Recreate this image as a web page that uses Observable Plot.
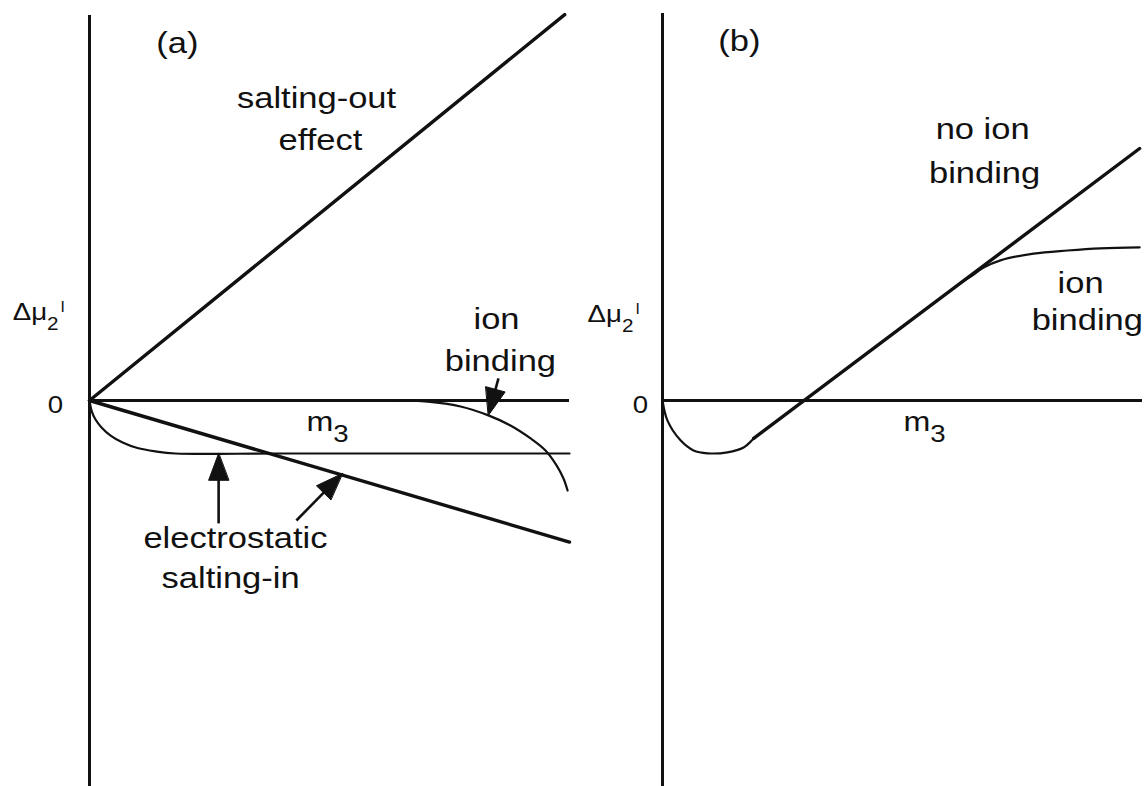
<!DOCTYPE html>
<html><head><meta charset="utf-8">
<script src="https://cdn.jsdelivr.net/npm/d3@7"></script>
<script src="https://cdn.jsdelivr.net/npm/@observablehq/plot@0.6"></script>
<style>
html,body{margin:0;padding:0;background:#fff;}
#wrap{display:flex;width:1144px;height:786px;overflow:hidden;}
svg text{font-family:"Liberation Sans",Arial,Helvetica,sans-serif;}
</style></head>
<body><div id="wrap"></div>
<script>
// ---------------- DATA (arbitrary schematic units: m3 0..100, Δμ2 up positive) ----------------
// Panel (a)
const aSaltOutM3 = [0, 99];
const aSaltOutMu = [0, 80.4];
const aSaltInLinM3 = [0, 100];
const aSaltInLinMu = [0, -29.5];
const aElectroM3 = [0, 0.42, 1.25, 2.5, 4.4, 6.9, 10.0, 13.75, 17.9, 40, 100];
const aElectroMu = [0, -2.1, -3.96, -5.6, -7.3, -8.75, -9.9, -10.6, -11.04, -11.04, -11.04];
const aIonM3 = [64.8, 71.0, 77.3, 83.1, 87.7, 91.9, 95.0, 97.3, 98.75, 99.6];
const aIonMu = [0, -0.3, -1.25, -3.1, -5.2, -7.9, -10.4, -13.5, -16.25, -18.75];
const aArrowTipM3 = [83.1, 26.9, 52.7];
const aArrowTipMu = [-3.1, -11.0, -15.2];
const aArrowTailM3 = [85.2, 26.9, 43.1];
const aArrowTailMu = [4.6, -25.6, -25.0];
const aLabelText = ["(a)", "salting-out", "effect", "ion", "binding", "electrostatic", "salting-in"];
const aLabelM3 = [18.3, 47.3, 48.1, 84.8, 85.6, 30.4, 29.4];
const aLabelMu = [74.3, 63.0, 54.1, 17.0, 8.25, -28.8, -37.0];
const aAxisTop = 80.2;

// Panel (b)
const bDipM3 = [0, 1.04, 3.75, 6.46, 9.4, 13.5, 16.9, 19.0];
const bDipMu = [0, -4.2, -8.3, -10.4, -11.0, -10.8, -9.8, -7.9];
const bNoBindM3 = [19.0, 99.4];
const bNoBindMu = [-7.9, 52.5];
const bIonM3 = [62.5, 64.2, 66.9, 70.4, 77.3, 84.4, 91.25, 99.4];
const bIonMu = [24.8, 25.8, 27.7, 29.2, 30.6, 31.25, 31.7, 31.9];
const bLabelText = ["(b)", "no ion", "binding", "ion", "binding"];
const bLabelM3 = [16.0, 66.7, 67.1, 87.1, 88.5];
const bLabelMu = [74.9, 56.4, 47.4, 24.5, 16.6];
const bAxisTop = 80.6;

// shared axis labels
const zeroLabel = "0";
const yLabel = "Δμ₂ˡ";
const xLabel = "m₃";
const aZeroPos = [-7.1, -0.9], bZeroPos = [-4.6, -0.9];
const aYLabelPos = [-16.0, 18.3], bYLabelPos = [-15.6, 17.9];
const aXLabelPos = [45.2, -4.4], bXLabelPos = [50.2, -4.4];
const m3Max = 100;

// ---------------- LAYOUT ----------------
const W = 572, H = 786, PX = 4.8, ORIGIN_Y = 400;
const yDomain = [(ORIGIN_Y - H) / PX, ORIGIN_Y / PX];
const yBottom = yDomain[0];

const zip = (xs, ys, id) => xs.map((x, i) => ({m3: x, mu: ys[i], id}));

function heads(tipX, tipY, tailX, tailY) {
  const hl = 27 / PX, hw = 10 / PX, out = [], shafts = [];
  tipX.forEach((tx, i) => {
    const ty = tipY[i], dx = tx - tailX[i], dy = ty - tailY[i];
    const L = Math.hypot(dx, dy), ux = dx / L, uy = dy / L;
    const bx = tx - ux * hl, by = ty - uy * hl;
    out.push({m3: tx, mu: ty, id: i});
    out.push({m3: bx - uy * hw, mu: by + ux * hw, id: i});
    out.push({m3: bx + uy * hw, mu: by - ux * hw, id: i});
    shafts.push({x1: tailX[i], y1: tailY[i], x2: bx + ux * 3 / PX, y2: by + uy * 3 / PX});
  });
  return {out, shafts};
}

function panel(cfg) {
  const marks = [
    Plot.ruleX([0], {y1: yBottom, y2: cfg.axisTop, stroke: "#111", strokeWidth: 3}),
    Plot.ruleY([0], {x1: 0, x2: m3Max, stroke: "#111", strokeWidth: 3}),
    Plot.line(cfg.thick, {x: "m3", y: "mu", z: "id", stroke: "#111", strokeWidth: 3.4}),
    Plot.line(cfg.thin, {x: "m3", y: "mu", z: "id", stroke: "#111", strokeWidth: 2.2, curve: "catmull-rom"})
  ];
  if (cfg.arrows) {
    marks.push(Plot.link(cfg.arrows.shafts, {x1: "x1", y1: "y1", x2: "x2", y2: "y2", stroke: "#111", strokeWidth: 2.6}));
    marks.push(Plot.line(cfg.arrows.out, {x: "m3", y: "mu", z: "id", fill: "#111", stroke: "#111", strokeWidth: 1, curve: "linear-closed"}));
  }
  marks.push(Plot.text(cfg.labels, {x: "m3", y: "mu", text: "t", fontSize: 30, fill: "#111"}));
  marks.push(Plot.text(cfg.zero, {x: "m3", y: "mu", text: "t", fontSize: 24, fill: "#111"}));
  marks.push(Plot.text(cfg.ylab, {x: "m3", y: "mu", text: "t", fontSize: 24, textAnchor: "start", fill: "#111"}));
  marks.push(Plot.text(cfg.xlab, {x: "m3", y: "mu", text: "t", fontSize: 28, textAnchor: "start", fill: "#111"}));
  const svg = Plot.plot({
    width: W, height: H, margin: 0,
    x: {domain: [0, m3Max], range: cfg.xRange, axis: null},
    y: {domain: yDomain, range: [H, 0], axis: null},
    style: {background: "transparent", overflow: "visible"},
    marks
  });
  richify(svg);
  return svg;
}

const NS = "http://www.w3.org/2000/svg";
function richify(svg) {
  svg.querySelectorAll("text").forEach(t => {
    const tr = t.getAttribute("transform");
    if (tr) t.setAttribute("transform", tr + " scale(1.15,1)");
    const s = t.textContent;
    if (!/[₂₃ˡ]/.test(s)) return;
    while (t.firstChild) t.removeChild(t.firstChild);
    let state = 0;
    for (const ch of s) {
      const ts = document.createElementNS(NS, "tspan");
      if (ch === "₂" || ch === "₃") {
        ts.textContent = ch === "₂" ? "2" : "3";
        ts.setAttribute("font-size", ch === "₂" ? "18" : "24");
        const target = ch === "₂" ? 10 : 11;
        ts.setAttribute("dy", target - state); state = target;
      } else if (ch === "ˡ") {
        ts.textContent = "l";
        ts.setAttribute("font-size", "15");
        ts.setAttribute("dy", -8 - state); state = -8;
        ts.setAttribute("dx", "2");
      } else {
        ts.textContent = ch;
        if (state !== 0) { ts.setAttribute("dy", -state); state = 0; }
      }
      t.appendChild(ts);
    }
  });
}

const lab = (T, X, Y) => T.map((t, i) => ({t, m3: X[i], mu: Y[i]}));
const one = (t, p) => [{t, m3: p[0], mu: p[1]}];

const aHeads = heads(aArrowTipM3, aArrowTipMu, aArrowTailM3, aArrowTailMu);
const panelA = panel({
  xRange: [89, 569], axisTop: aAxisTop,
  thick: [...zip(aSaltOutM3, aSaltOutMu, "out"), ...zip(aSaltInLinM3, aSaltInLinMu, "in")],
  thin: [...zip(aElectroM3, aElectroMu, "el"), ...zip(aIonM3, aIonMu, "ion")],
  arrows: aHeads,
  labels: lab(aLabelText, aLabelM3, aLabelMu),
  zero: one(zeroLabel, aZeroPos), ylab: one(yLabel, aYLabelPos), xlab: one(xLabel, aXLabelPos)
});
const panelB = panel({
  xRange: [90, 570], axisTop: bAxisTop,
  thick: zip(bNoBindM3, bNoBindMu, "nb"),
  thin: [...zip(bDipM3, bDipMu, "dip"), ...zip(bIonM3, bIonMu, "ion")],
  arrows: null,
  labels: lab(bLabelText, bLabelM3, bLabelMu),
  zero: one(zeroLabel, bZeroPos), ylab: one(yLabel, bYLabelPos), xlab: one(xLabel, bXLabelPos)
});
document.getElementById("wrap").append(panelA, panelB);
</script>
</body></html>
